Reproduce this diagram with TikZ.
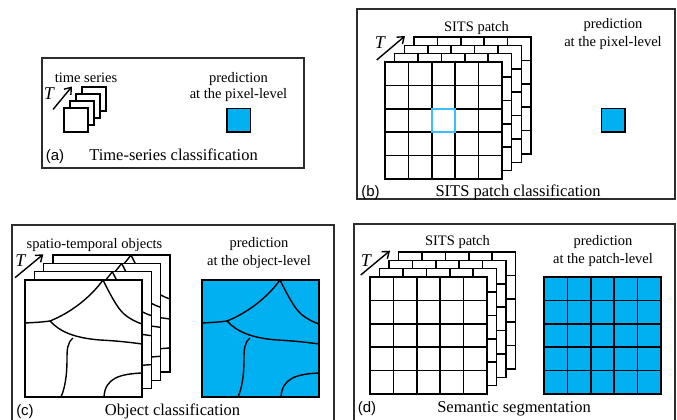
\documentclass[tikz,border=0pt]{standalone}
\usepackage{fontspec}
\setmainfont{Liberation Serif}
\newfontfamily\labfont{Liberation Sans}
\usetikzlibrary{arrows.meta}
\definecolor{pblue}{RGB}{0,176,240}
\definecolor{hblue}{RGB}{60,190,250}
\definecolor{framec}{RGB}{45,45,45}
\tikzset{
 frame/.style={draw=framec,line width=1.2pt},
 lab/.style={font=\fontsize{14.5}{16}\selectfont,inner sep=0pt,anchor=base},
 captxt/.style={font=\fontsize{16.5}{18}\selectfont,inner sep=0pt,anchor=base},
 tagtxt/.style={font=\labfont\fontsize{15}{17}\selectfont,inner sep=0pt,anchor=base},
 tlab/.style={font=\fontsize{18}{20}\selectfont\itshape,inner sep=0pt},
 tarrow/.style={line width=1.4pt,-{Straight Barb[length=6pt,width=9pt]}},
 layer/.style={draw,line width=1.6pt},
 gline/.style={line width=1.6pt},
 curve/.style={line width=1.4pt},
}
\newcommand\gridlayer[3]{%
 \begin{scope}[shift={(#1,#2)}]
 \draw[layer,fill=#3] (0,0) rectangle (117,117);
 \foreach \i in {1,...,4}{\draw[gline] (\i*23.4,0) -- (\i*23.4,117);
   \draw[gline] (0,\i*23.4) -- (117,\i*23.4);}
 \end{scope}}
\newcommand\objlayer[3]{%
 \begin{scope}[shift={(#1,#2)}]
 \draw[layer,fill=#3] (0,0) rectangle (117,117);
 \draw[curve] (0,43) .. controls (10,42.5) and (18,42) .. (25,41)
   .. controls (45,33) and (65,18) .. (78,0);
 \draw[curve] (78,0) .. controls (84,12) and (92,28) .. (99,34)
   .. controls (105,39) and (111,42) .. (117,44);
 \draw[curve] (25,41) .. controls (35,52) and (50,58) .. (75,60)
   .. controls (95,61) and (110,63) .. (117,64);
 \draw[curve] (48,58) .. controls (42,63) and (42,70) .. (42,80)
   .. controls (42,95) and (40,108) .. (36,117);
 \draw[curve] (79,117) .. controls (80,98) and (95,94) .. (117,93);
 \end{scope}}
\begin{document}
\begin{tikzpicture}[x=1pt,y=-1pt]
\useasboundingbox (0,0) rectangle (677,420);
\clip (0,0) rectangle (677,420);
% ---------- (a)
\draw[frame] (42,58) rectangle (304,168);
\foreach \k in {3,2,1,0}{
  \draw[layer,fill=white] (64+\k*6,108-\k*7) rectangle ++(24,24);}
\coordinate (aS) at (53,109.5);
\coordinate (aE) at (72,86.5);
\draw[tarrow] (aS) -- (aE);
\node[tlab] (aT) at (49,94) {T};
\node[lab] (aTS) at (86,82) {time series};
\node[lab] (aP1) at (238.5,82) {prediction};
\node[lab] (aP2) at (238.5,98.5) {at the pixel-level};
\draw[layer,fill=pblue] (227,108.3) rectangle ++(23.4,23.4);
\node[tagtxt] (aTag) at (55,160) {(a)};
\node[captxt] (aCap) at (173.5,160) {Time-series classification};
% ---------- (b)
\draw[frame] (357,9) rectangle (675,199);
\foreach \k in {3,2,1,0}{\gridlayer{385+\k*9.67}{62-\k*8.33}{white}}
\draw[line width=1.8pt,draw=hblue] (431.8,108.8) rectangle (455.2,132.2);
\coordinate (bS) at (376.7,60);
\coordinate (bE) at (405,36);
\draw[tarrow] (bS) -- (bE);
\node[tlab] (bT) at (380,42.5) {T};
\node[lab] (bTS) at (476.5,31.5) {SITS patch};
\node[lab] (bP1) at (613,29) {prediction};
\node[lab] (bP2) at (613,46.5) {at the pixel-level};
\draw[layer,fill=pblue] (601.3,108.3) rectangle ++(23.4,23.4);
\node[tagtxt] (bTag) at (370.5,196) {(b)};
\node[captxt] (bCap) at (518,196) {SITS patch classification};
% ---------- (c)
\draw[frame] (12,422) -- (12,225) -- (334,225) -- (334,422);
\foreach \k in {3,2,1,0}{\objlayer{25+\k*9.33}{280-\k*8.33}{white}}
\objlayer{202}{280}{pblue}
\coordinate (cS) at (15,277.7);
\coordinate (cE) at (43.3,254.3);
\draw[tarrow] (cS) -- (cE);
\node[tlab] (cT) at (20.5,260.8) {T};
\node[lab] (cTS) at (94.5,248) {spatio-temporal objects};
\node[lab] (cP1) at (259,247.5) {prediction};
\node[lab] (cP2) at (259,265) {at the object-level};
\node[tagtxt] (cTag) at (25,415) {(c)};
\node[captxt] (cCap) at (172.5,415) {Object classification};
% ---------- (d)
\draw[frame] (354,422) -- (354,224) -- (675,224) -- (675,422);
\foreach \k in {3,2,1,0}{\gridlayer{370+\k*9.5}{277-\k*8.33}{white}}
\gridlayer{544}{277}{pblue}
\coordinate (dS) at (360.7,275);
\coordinate (dE) at (390,250.7);
\draw[tarrow] (dS) -- (dE);
\node[tlab] (dT) at (365.8,260.8) {T};
\node[lab] (dTS) at (457.5,245) {SITS patch};
\node[lab] (dP1) at (603,245) {prediction};
\node[lab] (dP2) at (603,263) {at the patch-level};
\node[tagtxt] (dTag) at (367,412) {(d)};
\node[captxt] (dCap) at (514,412) {Semantic segmentation};
\end{tikzpicture}
\end{document}
